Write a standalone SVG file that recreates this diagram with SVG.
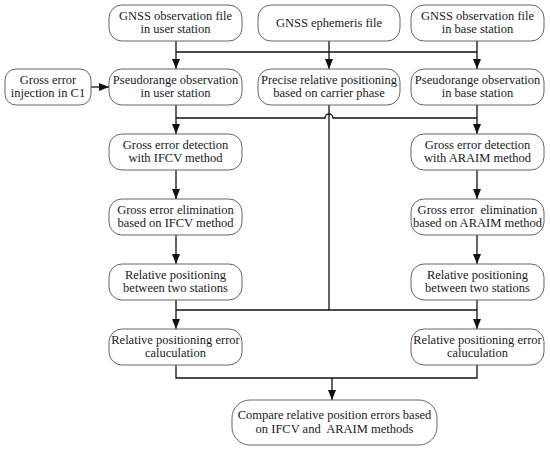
<svg xmlns="http://www.w3.org/2000/svg" width="550" height="451" viewBox="0 0 550 451">
<style>
.box{fill:#fff;stroke:#666;stroke-width:1}
.t{font-family:'Liberation Serif','Times New Roman',Times,'DejaVu Serif',serif;font-size:12.5px;fill:#1a1a1a;text-anchor:middle}
.ln{fill:none;stroke:#111;stroke-width:1.3}
</style>
<defs>
<marker id="ah" markerUnits="userSpaceOnUse" markerWidth="10" markerHeight="10" viewBox="0 0 10 10" refX="10" refY="5" orient="auto">
<path d="M0,1 L10,5 L0,9 Z" fill="#111"/>
</marker>
</defs>
<rect width="550" height="451" fill="#fff"/>
<g id="connectors">
<path class="ln" d="M176,41 V69" marker-end="url(#ah)"/>
<path class="ln" d="M329,41 V69" marker-end="url(#ah)"/>
<path class="ln" d="M477,41 V69" marker-end="url(#ah)"/>
<path class="ln" d="M176,52 H477"/>
<path class="ln" d="M91,87 H109" marker-end="url(#ah)"/>
<path class="ln" d="M176,105 V134" marker-end="url(#ah)"/>
<path class="ln" d="M477,105 V134" marker-end="url(#ah)"/>
<path class="ln" d="M176,118 H325 A4,4 0 0 1 333,118 H477"/>
<path class="ln" d="M329,105 V310"/>
<path class="ln" d="M176,170 V199" marker-end="url(#ah)"/>
<path class="ln" d="M477,170 V199" marker-end="url(#ah)"/>
<path class="ln" d="M176,235 V264" marker-end="url(#ah)"/>
<path class="ln" d="M477,235 V264" marker-end="url(#ah)"/>
<path class="ln" d="M176,300 V329" marker-end="url(#ah)"/>
<path class="ln" d="M477,300 V329" marker-end="url(#ah)"/>
<path class="ln" d="M176,310 H477"/>
<path class="ln" d="M176,365 V378 H477 V365"/>
<path class="ln" d="M332,378 V400" marker-end="url(#ah)"/>
</g>
<g id="n1"><rect class="box" x="109" y="5" width="133" height="36" rx="13"/><text class="t" x="175.5" y="20">GNSS observation file</text><text class="t" x="175.5" y="33">in user station</text></g>
<g id="n2"><rect class="box" x="258" y="5" width="142" height="36" rx="13"/><text class="t" x="329" y="27">GNSS ephemeris file</text></g>
<g id="n3"><rect class="box" x="411" y="5" width="133" height="36" rx="13"/><text class="t" x="477.5" y="20">GNSS observation file</text><text class="t" x="477.5" y="33">in base station</text></g>
<g id="n4"><rect class="box" x="5" y="69" width="86" height="36" rx="11"/><text class="t" x="48" y="84">Gross error</text><text class="t" x="48" y="97">injection in C1</text></g>
<g id="n5"><rect class="box" x="109" y="69" width="133" height="36" rx="13"/><text class="t" x="175.5" y="84">Pseudorange observation</text><text class="t" x="175.5" y="97">in user station</text></g>
<g id="n6"><rect class="box" x="258" y="69" width="142" height="36" rx="13"/><text class="t" x="329" y="84">Precise relative positioning</text><text class="t" x="329" y="97">based on carrier phase</text></g>
<g id="n7"><rect class="box" x="411" y="69" width="133" height="36" rx="13"/><text class="t" x="477.5" y="84">Pseudorange observation</text><text class="t" x="477.5" y="97">in base station</text></g>
<g id="n8"><rect class="box" x="109" y="134" width="133" height="36" rx="13"/><text class="t" x="175.5" y="149">Gross error detection</text><text class="t" x="175.5" y="162">with IFCV method</text></g>
<g id="n9"><rect class="box" x="411" y="134" width="133" height="36" rx="13"/><text class="t" x="477.5" y="149">Gross error detection</text><text class="t" x="477.5" y="162">with ARAIM method</text></g>
<g id="n10"><rect class="box" x="109" y="199" width="133" height="36" rx="13"/><text class="t" x="175.5" y="214">Gross error elimination</text><text class="t" x="175.5" y="227">based on IFCV method</text></g>
<g id="n11"><rect class="box" x="411" y="199" width="133" height="36" rx="13"/><text class="t" x="477.5" y="214" xml:space="preserve">Gross error  elimination</text><text class="t" x="477.5" y="227">based on ARAIM method</text></g>
<g id="n12"><rect class="box" x="109" y="264" width="133" height="36" rx="13"/><text class="t" x="175.5" y="279">Relative positioning</text><text class="t" x="175.5" y="292">between two stations</text></g>
<g id="n13"><rect class="box" x="411" y="264" width="133" height="36" rx="13"/><text class="t" x="477.5" y="279">Relative positioning</text><text class="t" x="477.5" y="292">between two stations</text></g>
<g id="n14"><rect class="box" x="109" y="329" width="133" height="36" rx="13"/><text class="t" x="175.5" y="344">Relative positioning error</text><text class="t" x="175.5" y="357">caluculation</text></g>
<g id="n15"><rect class="box" x="411" y="329" width="133" height="36" rx="13"/><text class="t" x="477.5" y="344">Relative positioning error</text><text class="t" x="477.5" y="357">caluculation</text></g>
<g id="n16"><rect class="box" x="232" y="400" width="205" height="45" rx="18"/><text class="t" x="334.5" y="419">Compare relative position errors based</text><text class="t" x="334.5" y="433" xml:space="preserve">on IFCV and  ARAIM methods</text></g>
</svg>
